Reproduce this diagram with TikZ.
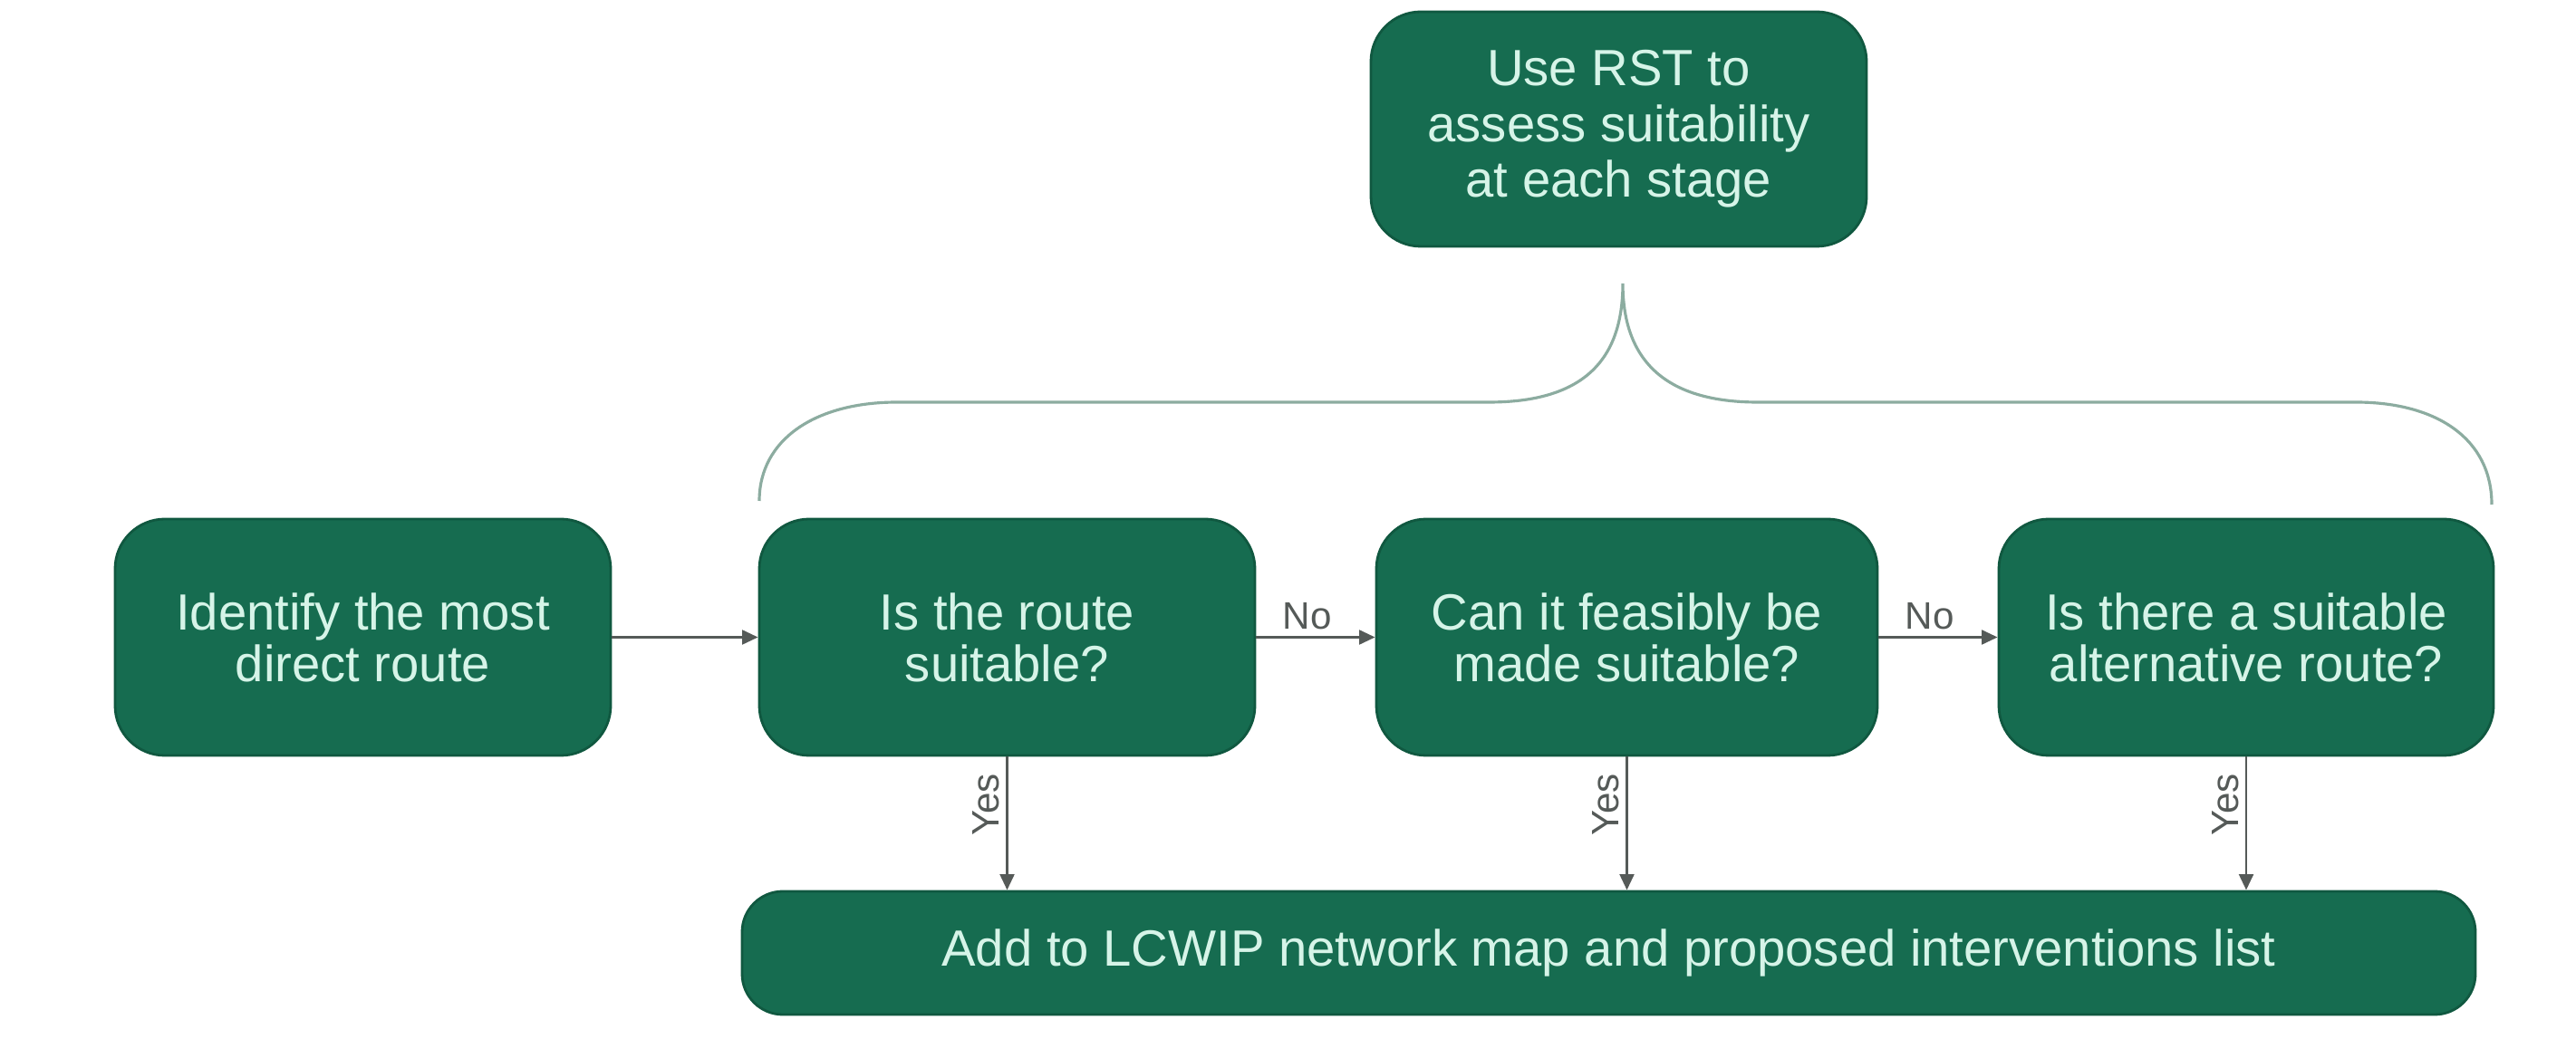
\documentclass[tikz,border=0pt]{standalone}
\usepackage{fontspec}
\setmainfont{Liberation Sans}
\usetikzlibrary{arrows.meta}
\definecolor{boxgreen}{RGB}{22,108,80}
\definecolor{boxedge}{RGB}{16,88,64}
\definecolor{boxtext}{RGB}{214,244,232}
\definecolor{linegray}{RGB}{85,90,88}
\definecolor{bracecol}{RGB}{140,172,160}
\tikzset{
  stepbox/.style={rectangle, rounded corners=0.55cm, fill=boxgreen, draw=boxedge, line width=0.8pt,
    text=boxtext, align=center, font=\fontsize{16pt}{16.2pt}\selectfont, inner sep=0pt},
  flow/.style={draw=linegray, line width=0.8pt, -{Triangle[length=5pt,width=4.5pt]}},
  lab/.style={text=linegray, font=\fontsize{12pt}{14pt}\selectfont, inner sep=2pt}
}
\begin{document}
\begin{tikzpicture}
\useasboundingbox[fill=white] (0,0) rectangle (28.43,-11.47);
\node[stepbox, font=\fontsize{16pt}{17.5pt}\selectfont, minimum width=5.47cm, minimum height=2.59cm] (rst) at (17.865,-1.425) {Use RST to\\assess suitability\\at each stage};
\node[stepbox, minimum width=5.47cm, minimum height=2.61cm] (b1) at (4.005,-7.035) {Identify the most\\direct route};
\node[stepbox, minimum width=5.47cm, minimum height=2.61cm] (b2) at (11.115,-7.035) {Is the route\\suitable?};
\node[stepbox, minimum width=5.53cm, minimum height=2.61cm] (b3) at (17.955,-7.035) {Can it feasibly be\\made suitable?};
\node[stepbox, minimum width=5.46cm, minimum height=2.61cm] (b4) at (24.79,-7.035) {Is there a suitable\\alternative route?};
\node[stepbox, rounded corners=0.45cm, minimum width=19.13cm, minimum height=1.36cm] (add) at (17.755,-10.52) {Add to LCWIP network map and proposed interventions list};
% brace
\draw[bracecol, line width=0.9pt]
  (8.38,-5.53) .. controls (8.38,-4.85) and (9.0,-4.44) .. (9.9,-4.44)
  -- (16.43,-4.44) .. controls (17.45,-4.44) and (17.91,-4.0) .. (17.91,-3.13)
  .. controls (17.91,-4.0) and (18.4,-4.44) .. (19.4,-4.44)
  -- (26.0,-4.44) .. controls (26.9,-4.44) and (27.5,-4.85) .. (27.5,-5.57);
% connectors
\draw[flow] (b1.east) -- (b2.west);
\draw[flow] (b2.east) -- node[lab, above, pos=0.43] {No} (b3.west);
\draw[flow] (b3.east) -- node[lab, above, pos=0.43] {No} (b4.west);
\draw[flow] (b2.south) -- node[lab, pos=0.36, rotate=90, anchor=south] {Yes} (b2.south |- add.north);
\draw[flow] (b3.south) -- node[lab, pos=0.36, rotate=90, anchor=south] {Yes} (b3.south |- add.north);
\draw[flow] (b4.south) -- node[lab, pos=0.36, rotate=90, anchor=south] {Yes} (b4.south |- add.north);
\end{tikzpicture}
\end{document}
